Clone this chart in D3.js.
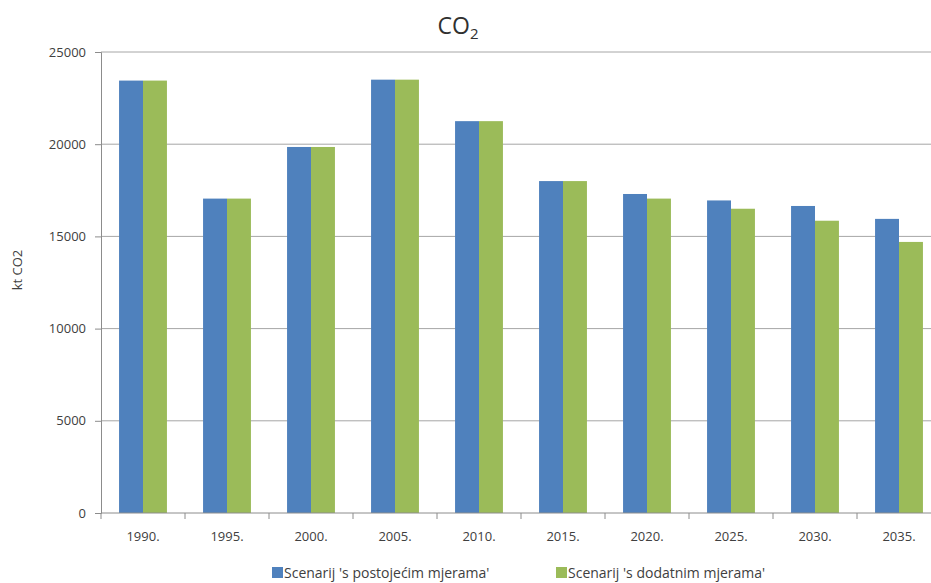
<!DOCTYPE html>
<html>
<head>
<meta charset="utf-8">
<script src="https://cdn.jsdelivr.net/npm/d3@7"></script>
<style>
  body { margin: 0; background: #fff; }
  svg { display: block; font-family: "Open Sans", "Noto Sans", sans-serif; }
</style>
</head>
<body>
<svg id="chart" width="931" height="583"></svg>
<script>
const years = ["1990.", "1995.", "2000.", "2005.", "2010.", "2015.", "2020.", "2025.", "2030.", "2035."];
const postojecim = [23450, 17050, 19850, 23500, 21250, 18000, 17300, 16950, 16650, 15950];
const dodatnim = [23450, 17050, 19850, 23500, 21250, 18000, 17050, 16500, 15850, 14700];
const seriesNames = ["Scenarij 's postojećim mjerama'", "Scenarij 's dodatnim mjerama'"];
const colors = ["#4f81bd", "#9bbb59"];
const yTicks = [0, 5000, 10000, 15000, 20000, 25000];

const svg = d3.select("#chart");
const plotL = 101, plotR = 941, plotT = 52, plotB = 513;

const x = d3.scaleBand().domain(years).range([plotL, plotR]).paddingInner(0.43).paddingOuter(0.215);
const xs = d3.scaleBand().domain([0, 1]).range([0, x.bandwidth()]);
const y = d3.scaleLinear().domain([0, 25000]).range([plotB, plotT]);

// gridlines
svg.append("g")
  .selectAll("line")
  .data(yTicks.filter(d => d > 0))
  .join("line")
  .attr("x1", plotL).attr("x2", plotR)
  .attr("y1", d => y(d)).attr("y2", d => y(d))
  .attr("stroke", "#a6a6a6").attr("stroke-width", 1);

// bars
const rows = years.map((yr, i) => ({ yr, vals: [postojecim[i], dodatnim[i]] }));
svg.append("g")
  .selectAll("g")
  .data(rows)
  .join("g")
  .attr("transform", d => `translate(${x(d.yr)},0)`)
  .selectAll("rect")
  .data(d => d.vals.map((v, k) => ({ v, k })))
  .join("rect")
  .attr("x", d => xs(d.k))
  .attr("width", xs.bandwidth())
  .attr("y", d => y(d.v))
  .attr("height", d => plotB - y(d.v))
  .attr("fill", d => colors[d.k]);

// y axis
const yAxis = svg.append("g")
  .attr("transform", `translate(${plotL},0)`)
  .call(d3.axisLeft(y).tickValues(yTicks).tickSize(6).tickPadding(9).tickFormat(d3.format("d")));
yAxis.select(".domain").attr("stroke", "#8c8c8c");
yAxis.selectAll(".tick line").attr("stroke", "#8c8c8c");
yAxis.selectAll("text").attr("font-size", 13).attr("fill", "#404040").attr("font-family", "Open Sans, sans-serif");

// x axis
const step = x.step();
const xAxisG = svg.append("g").attr("transform", `translate(0,${plotB})`);
xAxisG.append("line").attr("x1", plotL).attr("x2", plotR).attr("stroke", "#8c8c8c");
xAxisG.selectAll("line.tk")
  .data(d3.range(years.length + 1))
  .join("line")
  .attr("class", "tk")
  .attr("x1", i => plotL + i * step).attr("x2", i => plotL + i * step)
  .attr("y1", 0).attr("y2", 6)
  .attr("stroke", "#8c8c8c");
xAxisG.selectAll("text")
  .data(years)
  .join("text")
  .attr("x", d => x(d) + x.bandwidth() / 2)
  .attr("y", 28)
  .attr("text-anchor", "middle")
  .attr("font-size", 13)
  .attr("fill", "#404040")
  .text(d => d);

// y label
svg.append("text")
  .attr("transform", "translate(22,270) rotate(-90)")
  .attr("text-anchor", "middle")
  .attr("font-size", 13)
  .attr("fill", "#404040")
  .text("kt CO2");

// title
const title = svg.append("text")
  .attr("x", 458).attr("y", 34)
  .attr("text-anchor", "middle")
  .attr("font-size", 23)
  .attr("fill", "#303030");
title.append("tspan").text("CO");
title.append("tspan").attr("font-size", 15).attr("dy", 5).text("2");

// legend
const legendX = [272, 556];
const lg = svg.append("g")
  .selectAll("g")
  .data(seriesNames)
  .join("g")
  .attr("transform", (d, i) => `translate(${legendX[i]},567)`);
lg.append("rect").attr("width", 11).attr("height", 11).attr("fill", (d, i) => colors[i]);
lg.append("text").attr("x", 12).attr("y", 11).attr("font-size", 14).attr("fill", "#404040").text(d => d);
</script>
</body>
</html>
